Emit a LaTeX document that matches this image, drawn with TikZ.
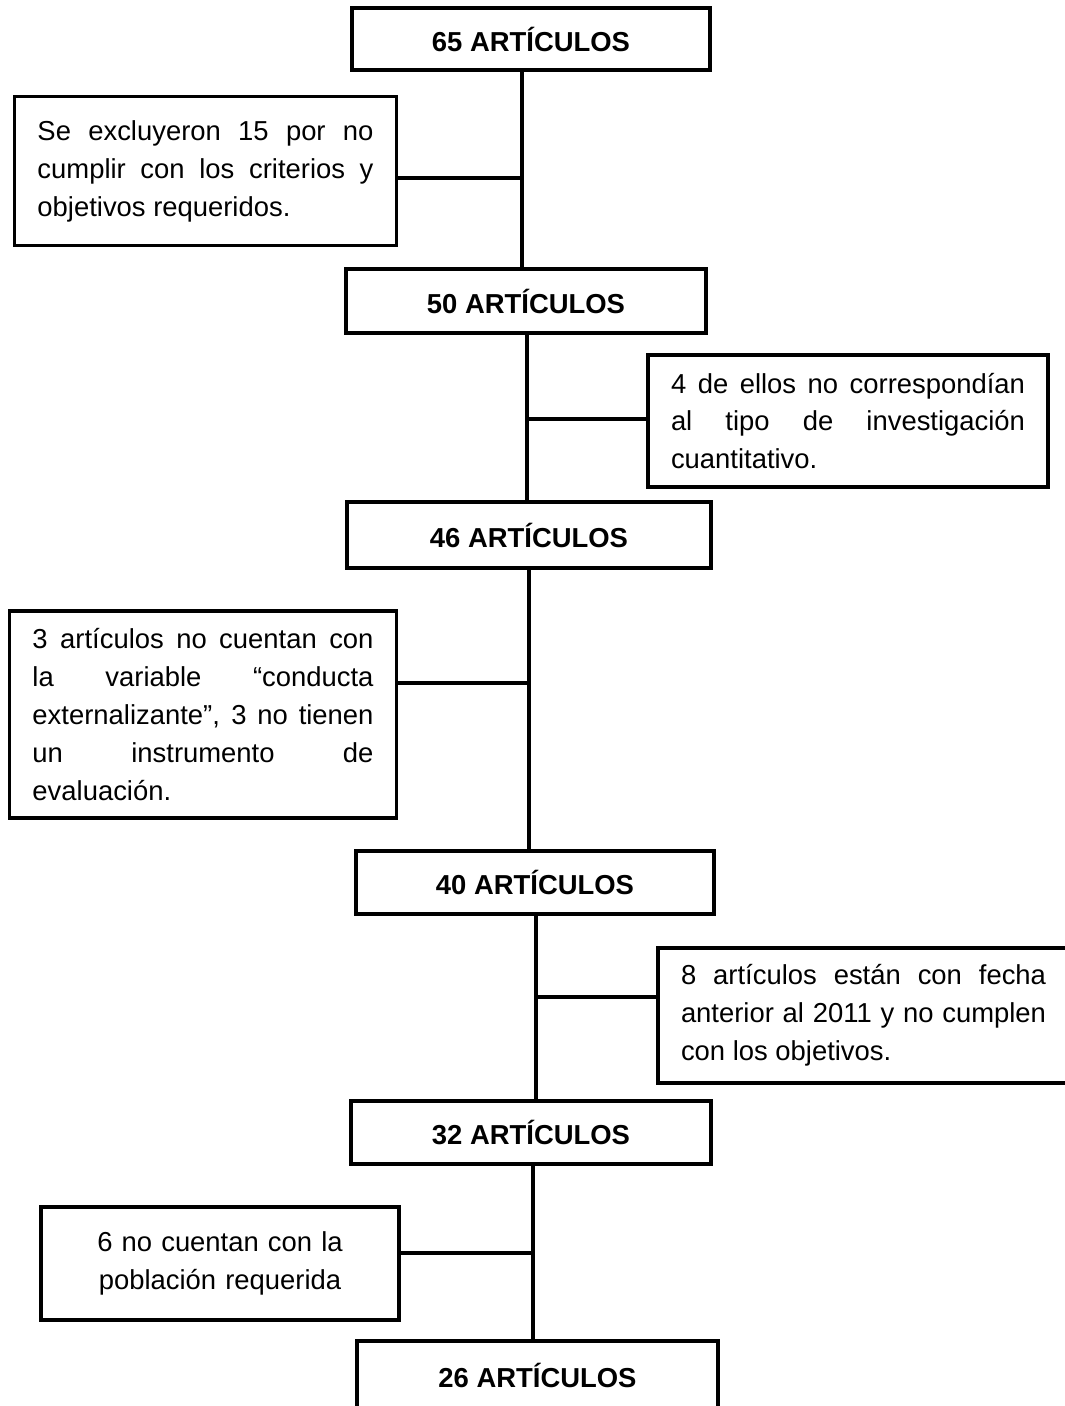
\documentclass[tikz,border=0pt]{standalone}
\usepackage{fontspec}
\setmainfont{Liberation Sans}
\tolerance=10000
\hyphenpenalty=10000
\hbadness=10000
\begin{document}
\begin{tikzpicture}[x = 0.015cm, y = -0.015cm,
box_main/.style = { draw, line width = 1.4pt, font = \fontsize{11.7}{16.2}\selectfont\bfseries},
box_side/.style = { draw, line width = 1.4pt, font = \fontsize{11.7}{16.2}\selectfont, inner xsep = 0.345cm, align = justify},
line_con/.style = { line width = 1.35pt }]
\useasboundingbox (0,0) rectangle (1064,1406);
\node[box_main, minimum width = 5.37cm, minimum height = 0.93cm] (a65) at (531,39) {65 ARTÍCULOS};
\node[box_main, minimum width = 5.40cm, minimum height = 0.96cm] (a50) at (526,301) {50 ARTÍCULOS};
\node[box_main, minimum width = 5.46cm, minimum height = 0.99cm] (a46) at (529,535) {46 ARTÍCULOS};
\node[box_main, minimum width = 5.37cm, minimum height = 0.945cm] (a40) at (535,882.5) {40 ARTÍCULOS};
\node[box_main, minimum width = 5.40cm, minimum height = 0.945cm] (a32) at (531,1132.5) {32 ARTÍCULOS};
\node[box_main, minimum width = 5.415cm, minimum height = 1.02cm] (a26) at (537.5,1375) {26 ARTÍCULOS};
\node[box_side, text width = 5.04cm, minimum height = 2.235cm] (n15) at (205.5,171)
  {Se excluyeron 15 por no\linebreak cumplir con los criterios y\linebreak objetivos requeridos.};
\node[box_side, text width = 5.31cm, minimum height = 1.98cm] (n4) at (848,421)
  {4 de ellos no correspondían\linebreak al tipo de investigación\linebreak cuantitativo.};
\node[box_side, text width = 5.115cm, minimum height = 3.105cm] (n3) at (203,714.5)
  {3 artículos no cuentan con\linebreak la variable “conducta\linebreak externalizante”, 3 no tienen\linebreak un instrumento de\linebreak evaluación.};
\node[box_side, text width = 5.475cm, minimum height = 2.025cm] (n8) at (863.5,1015.5)
  {8 artículos están con fecha\linebreak anterior al 2011 y no cumplen\linebreak con los objetivos.};
\node[box_side, text width = 4.68cm, minimum height = 1.695cm, align = center] (n6) at (220,1263.5)
  {6 no cuentan con la\\ población requerida};
\coordinate (j1) at (522,178);
\coordinate (j2) at (527,419);
\coordinate (j3) at (529,683);
\coordinate (j4) at (536,997);
\coordinate (j5) at (533,1253);
\draw[line_con] (a65.south -| j1) -- (a50.north -| j1);
\draw[line_con] (a50.south -| j2) -- (a46.north -| j2);
\draw[line_con] (a46.south -| j3) -- (a40.north -| j3);
\draw[line_con] (a40.south -| j4) -- (a32.north -| j4);
\draw[line_con] (a32.south -| j5) -- (a26.north -| j5);
\draw[line_con] (n15.east |- j1) -- (j1);
\draw[line_con] (j2) -- (n4.west |- j2);
\draw[line_con] (n3.east |- j3) -- (j3);
\draw[line_con] (j4) -- (n8.west |- j4);
\draw[line_con] (n6.east |- j5) -- (j5);
\end{tikzpicture}
\end{document}
